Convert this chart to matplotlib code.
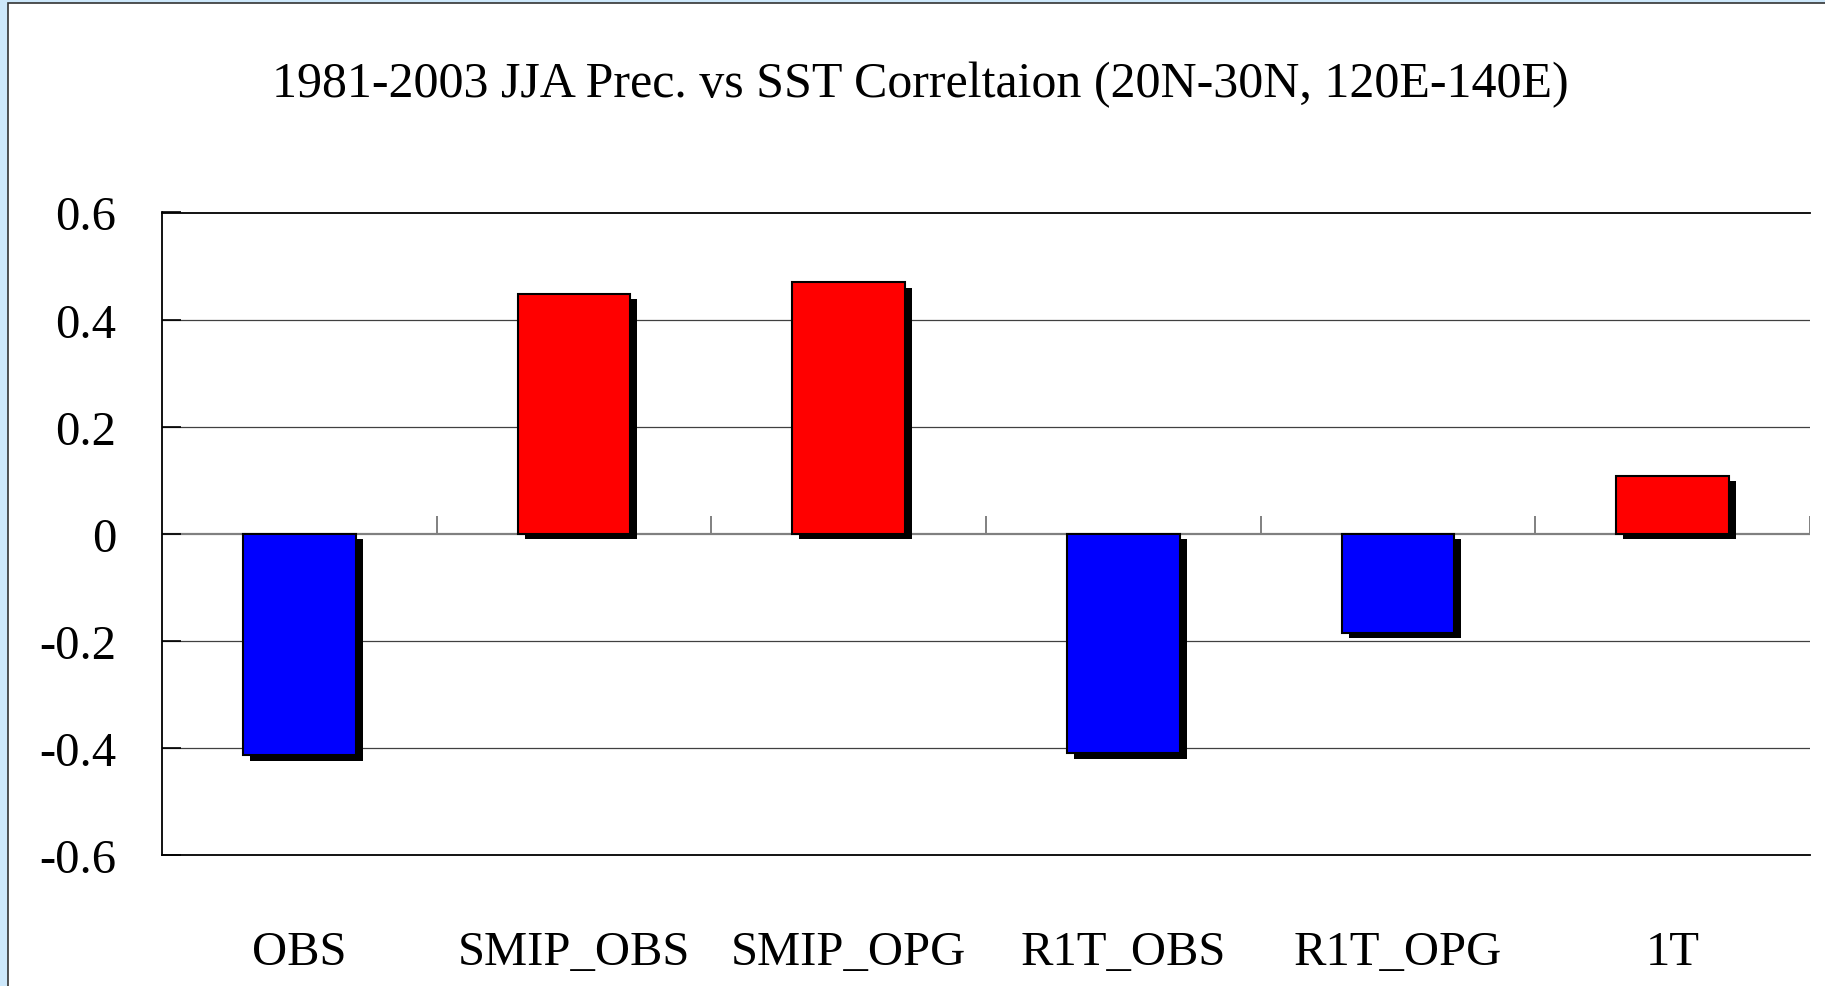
import matplotlib
matplotlib.use("Agg")
import matplotlib.pyplot as plt
import matplotlib.patheffects as pe
from matplotlib.patches import Rectangle
import numpy as np

# values
categories = ['OBS', 'SMIP_OBS', 'SMIP_OPG', 'R1T_OBS', 'R1T_OPG', '1T']
correlation = [-0.414, 0.448, 0.470, -0.410, -0.185, 0.108]
yticks = [-0.6, -0.4, -0.2, 0, 0.2, 0.4, 0.6]
ytick_labels = ['-0.6', '-0.4', '-0.2', '0', '0.2', '0.4', '0.6']
title = '1981-2003 JJA Prec. vs SST Correltaion (20N-30N, 120E-140E)'

W, H, DPI = 1825, 987, 100
SERIF = ['Liberation Serif', 'DejaVu Serif']

fig = plt.figure(figsize=(W / DPI, H / DPI), dpi=DPI)
fig.patch.set_facecolor('#cde8fb')

# white panel with a thin dark frame on left and top
fig.patches.append(Rectangle((8 / W, -0.02), 1.05, 1 - 4 / H + 0.02,
                             transform=fig.transFigure, facecolor='white',
                             edgecolor='#333333', linewidth=1.2, zorder=-10))

ax = fig.add_axes([162 / W, 1 - 856 / H, (1810 - 162) / W, (856 - 213.5) / H])
ax.set_facecolor('white')

x = np.arange(len(categories))
colors = ['#0000ff' if v < 0 else '#ff0000' for v in correlation]
bars = ax.bar(x, correlation, width=0.41, color=colors, edgecolor='black',
              linewidth=1.5, zorder=3)
for b in bars:
    b.set_path_effects([pe.SimplePatchShadow(offset=(5, -4), shadow_rgbFace='black', alpha=1.0),
                        pe.Normal()])

ax.set_xlim(-0.5, len(categories) - 0.5)
ax.set_ylim(-0.6, 0.6)

# horizontal gridlines and zero line
for yv in yticks:
    if yv in (-0.6, 0.6):
        continue
    if yv == 0:
        ax.axhline(0, color='#808080', linewidth=1.6, zorder=1)
    else:
        ax.axhline(yv, color='#404040', linewidth=0.9, zorder=1)

# small upward ticks on the zero line between categories
ax.vlines(np.arange(len(categories)) + 0.5, 0, 0.034, color='#808080',
          linewidth=1.4, zorder=1)

for side in ['top', 'bottom', 'left']:
    ax.spines[side].set_color('black')
    ax.spines[side].set_linewidth(1.3)
ax.spines['right'].set_visible(False)

ax.set_yticks(yticks)
ax.set_yticklabels(ytick_labels, family=SERIF, fontsize=35)
ax.tick_params(axis='y', direction='in', length=14, width=1.2, pad=33)

ax.set_xticks(x)
ax.set_xticklabels(categories, family=SERIF, fontsize=35)
ax.tick_params(axis='x', length=0, pad=54)

fig.text(920 / W, 1 - 97 / H, title, ha='center', va='baseline',
         family=SERIF, fontsize=36)

fig.savefig('out.png', dpi=DPI, facecolor=fig.get_facecolor())
